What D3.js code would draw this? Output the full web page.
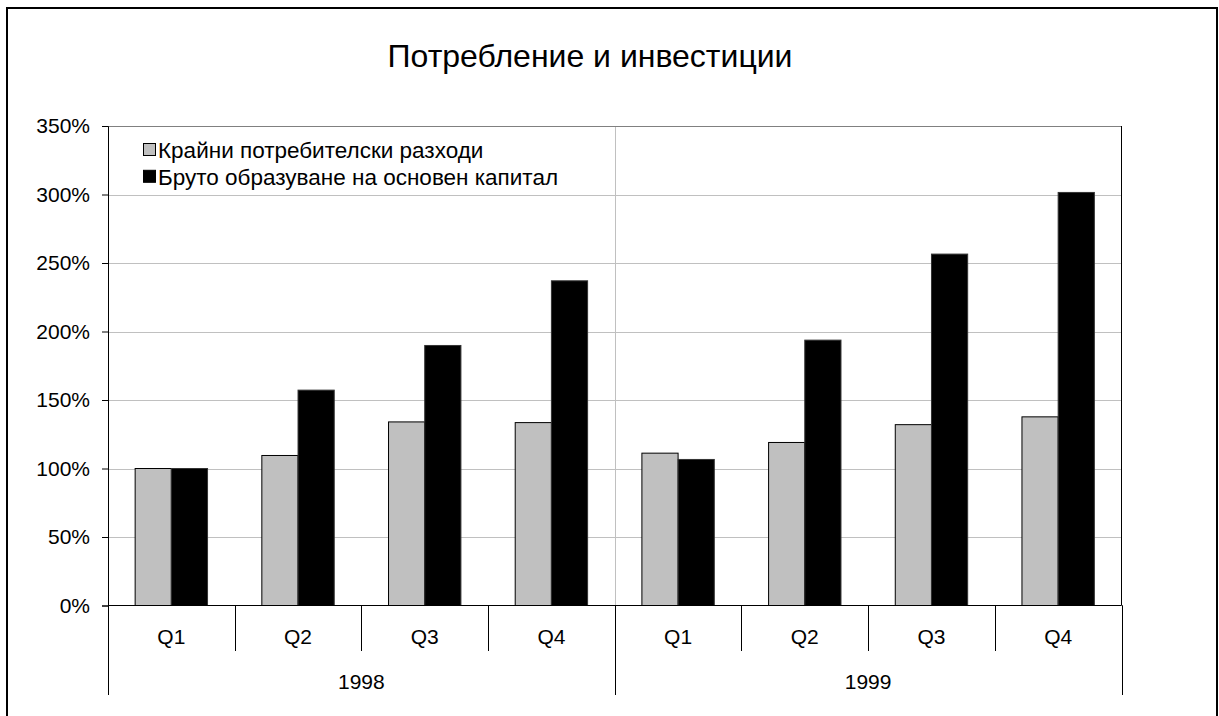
<!DOCTYPE html>
<html>
<head>
<meta charset="utf-8">
<script src="https://cdn.jsdelivr.net/npm/d3@7"></script>
<style>
  html, body { margin: 0; padding: 0; background: #fff; }
  svg { display: block; font-family: "Liberation Sans", Arial, sans-serif; }
</style>
</head>
<body>
<svg id="chart" width="1219" height="716"></svg>
<script>
// ---- data ----
const years = ["1998", "1999"];
const quarters = ["Q1", "Q2", "Q3", "Q4"];
const seriesNames = ["Крайни потребителски разходи", "Бруто образуване на основен капитал"];
const consumption = [1.00, 1.095, 1.34, 1.335, 1.112, 1.19, 1.32, 1.377];
const investment = [1.00, 1.572, 1.898, 2.37, 1.066, 1.937, 2.565, 3.015];
const yTicks = [0, 0.5, 1, 1.5, 2, 2.5, 3, 3.5];
const title = "Потребление и инвестиции";
const seriesColors = ["#c0c0c0", "#000000"];

// ---- layout ----
const svg = d3.select("#chart");
const pLeft = 108, pRight = 1121.5, pTop = 126, pBottom = 605.5;
const fs = 21;

const cats = [];
years.forEach(y => quarters.forEach(q => cats.push(y + "-" + q)));

const x0 = d3.scaleBand().domain(cats).range([pLeft, pRight]).padding(0);
const x1 = d3.scaleBand().domain([0, 1]).range([0, x0.bandwidth()])
  .paddingInner(0).paddingOuter(0.75);
const y = d3.scaleLinear().domain([0, 3.5]).range([pBottom, pTop]);

// outer frame
svg.append("rect").attr("x", 7).attr("y", 8).attr("width", 1210).attr("height", 720)
  .attr("fill", "none").attr("stroke", "#000").attr("stroke-width", 2);

// title
svg.append("text").attr("x", 590).attr("y", 67).attr("text-anchor", "middle")
  .attr("font-size", 32).attr("fill", "#000").text(title);

// horizontal gridlines
svg.append("g").selectAll("line").data(yTicks.slice(1, -1)).join("line")
  .attr("x1", pLeft).attr("x2", pRight)
  .attr("y1", d => Math.round(y(d)) + 0.5).attr("y2", d => Math.round(y(d)) + 0.5)
  .attr("stroke", "#c0c0c0").attr("stroke-width", 1);

// vertical gridline between years
const yearBounds = [pLeft, x0(years[1] + "-Q1"), pRight];
svg.append("line")
  .attr("x1", Math.round(yearBounds[1]) + 0.5).attr("x2", Math.round(yearBounds[1]) + 0.5)
  .attr("y1", pTop).attr("y2", pBottom)
  .attr("stroke", "#c0c0c0").attr("stroke-width", 1);

// plot area border: top and right
svg.append("line").attr("x1", pLeft).attr("x2", pRight).attr("y1", pTop + 0.5).attr("y2", pTop + 0.5)
  .attr("stroke", "#808080").attr("stroke-width", 1);
svg.append("line").attr("x1", pRight).attr("x2", pRight).attr("y1", pTop).attr("y2", pBottom)
  .attr("stroke", "#000").attr("stroke-width", 1);

// bars
const g = svg.append("g");
cats.forEach((c, i) => {
  [consumption[i], investment[i]].forEach((v, s) => {
    g.append("rect")
      .attr("x", x0(c) + x1(s))
      .attr("y", y(v))
      .attr("width", x1.bandwidth())
      .attr("height", y(0) - y(v))
      .attr("fill", seriesColors[s])
      .attr("stroke", s === 0 ? "#000" : "#333")
      .attr("stroke-width", 1);
  });
});

// y axis
const yAxis = d3.axisLeft(y).tickValues(yTicks).tickFormat(d3.format(".0%")).tickSizeOuter(0).tickSize(6).tickPadding(12);
const ya = svg.append("g").attr("transform", `translate(${pLeft},0)`).call(yAxis);
ya.selectAll("text").attr("font-size", fs).attr("fill", "#000").attr("font-family", "Liberation Sans, Arial, sans-serif");
ya.selectAll("line,path").attr("stroke", "#000");

// x axis line
svg.append("line").attr("x1", pLeft).attr("x2", pRight).attr("y1", pBottom).attr("y2", pBottom)
  .attr("stroke", "#000").attr("stroke-width", 1);

// quarter separators
const qBounds = cats.map(c => x0(c)).concat([pRight]);
svg.append("g").selectAll("line").data(qBounds).join("line")
  .attr("x1", d => Math.round(d) + 0.5).attr("x2", d => Math.round(d) + 0.5)
  .attr("y1", pBottom).attr("y2", 651)
  .attr("stroke", "#000").attr("stroke-width", 1);

// year separators
svg.append("g").selectAll("line").data(yearBounds).join("line")
  .attr("x1", d => Math.round(d) + 0.5).attr("x2", d => Math.round(d) + 0.5)
  .attr("y1", pBottom).attr("y2", 695)
  .attr("stroke", "#000").attr("stroke-width", 1);

// quarter labels
svg.append("g").selectAll("text").data(cats).join("text")
  .attr("x", d => x0(d) + x0.bandwidth() / 2).attr("y", 644)
  .attr("text-anchor", "middle").attr("font-size", fs).attr("fill", "#000")
  .text(d => d.split("-")[1]);

// year labels
svg.append("g").selectAll("text").data(years).join("text")
  .attr("x", (d, i) => (yearBounds[i] + yearBounds[i + 1]) / 2).attr("y", 689)
  .attr("text-anchor", "middle").attr("font-size", fs).attr("fill", "#000")
  .text(d => d);

// legend
const lg = svg.append("g");
seriesNames.forEach((n, i) => {
  const cy = 150 + i * 26.8;
  lg.append("rect").attr("x", 143.5).attr("y", cy - 6.5).attr("width", 12).attr("height", 12)
    .attr("fill", seriesColors[i]).attr("stroke", "#000").attr("stroke-width", 1);
  lg.append("text").attr("x", 158).attr("y", cy + 7.8).attr("font-size", 22.5).attr("fill", "#000").text(n);
});
</script>
</body>
</html>
